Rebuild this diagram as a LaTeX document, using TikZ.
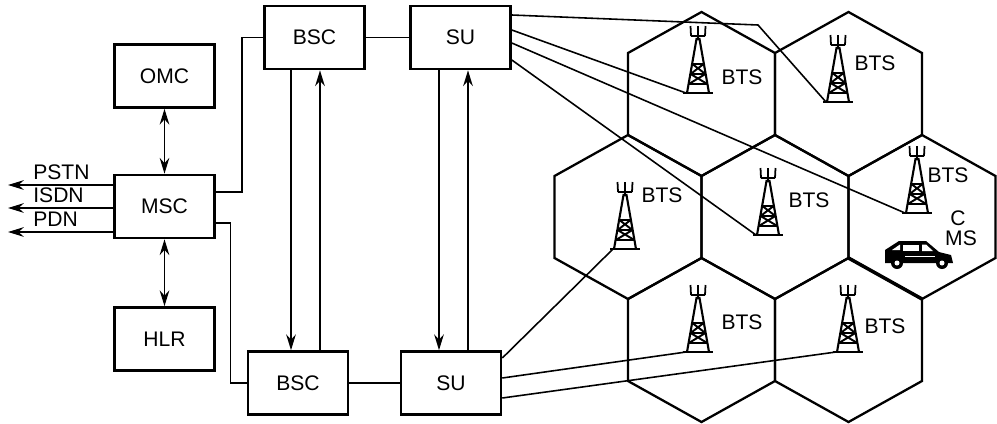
\documentclass[tikz,border=0pt]{standalone}
\usepackage{fontspec}
\setmainfont{Liberation Sans}
\usetikzlibrary{arrows.meta, calc}

\begin{document}
\begin{tikzpicture}[x=0.02cm, y=-0.02cm,
    font=\fontsize{12}{14}\selectfont,
    unit/.style={draw, line width=1.5pt, minimum width=2cm, minimum height=1.26cm, inner sep=0pt},
    link/.style={line width=0.9pt},
    arr/.style={line width=0.9pt, -{Stealth[length=9pt, width=5.5pt, inset=3pt]}},
    dblarr/.style={line width=0.9pt, {Stealth[length=9pt, width=5.5pt, inset=3pt]}-{Stealth[length=9pt, width=5.5pt, inset=3pt]}},
    cell/.style={line width=1.3pt, line join=miter},
    tag/.style={inner sep=0pt, anchor=base west},
    tower/.pic={
        \draw[line width=1pt] (-15,0) -- (15,0);
        \draw[line width=1.2pt] (-11,0) -- (-1.5,-54) -- (1.5,-54) -- (11,0);
        \draw[line width=1pt] (0,-54) -- (0,-57) (-7,-57) -- (7,-57);
        \draw[line width=1pt] (-7,-57) -- (-7.5,-67) (0,-57) -- (0,-67) (7,-57) -- (7.5,-67);
        \draw[line width=1.1pt] (-9.2,-9) -- (9.2,-9) (-7.4,-19) -- (7.4,-19) (-5.6,-29) -- (5.6,-29);
        \draw[line width=1.1pt] (-9.2,-9) -- (7.4,-19) (9.2,-9) -- (-7.4,-19)
            (-7.4,-19) -- (5.6,-29) (7.4,-19) -- (-5.6,-29);
        \coordinate (-foot) at (-12,0);
    }]
\useasboundingbox (0,0) rectangle (997,423);

% switching side
\node[unit] (omc) at (164.5,76) {OMC};
\node[unit] (msc) at (164.5,206.5) {MSC};
\node[unit] (hlr) at (164.5,339) {HLR};
\draw[dblarr] (omc) -- (msc);
\draw[dblarr] (msc) -- (hlr);

\coordinate (pstnEnd) at (8,185);
\coordinate (isdnEnd) at (8,208);
\coordinate (pdnEnd) at (8,232);
\draw[arr] ($(msc.west)+(0,-21.5)$) -- (pstnEnd);
\draw[arr] ($(msc.west)+(0,1.5)$) -- (isdnEnd);
\draw[arr] ($(msc.west)+(0,25.5)$) -- (pdnEnd);
\node[tag] (pstn) at (33,179) {PSTN};
\node[tag] (isdn) at (33,202) {ISDN};
\node[tag] (pdn) at (33,226) {PDN};

% base station controllers
\node[unit] (bscA) at (314.5,37.5) {BSC};
\node[unit] (suA) at (460.5,37.5) {SU};
\node[unit] (bscB) at (298,383) {BSC};
\node[unit] (suB) at (451,383) {SU};

\draw[link] ($(msc.east)+(0,-14.5)$) -| ($(bscA.west)+(-21,0)$) -- (bscA.west);
\draw[link] ($(msc.east)+(0,16.5)$) -| ($(bscB.west)+(-16,0)$) -- (bscB.west);
\draw[link] (bscA) -- (suA);
\draw[link] (bscB) -- (suB);

\draw[arr] ($(bscA.south)+(-23.5,0)$) -- ($(bscB.north)+(-7,0)$);
\draw[arr] ($(bscB.north)+(22,0)$) -- ($(bscA.south)+(5.5,0)$);
\draw[arr] ($(suA.south)+(-21.5,0)$) -- ($(suB.north)+(-12,0)$);
\draw[arr] ($(suB.north)+(17,0)$) -- ($(suA.south)+(7.5,0)$);

% cells
\foreach \cx/\cy in {701.5/94, 848.5/94, 628/217, 775/217, 922/217, 701.5/340, 848.5/340}
    \draw[cell] (\cx,\cy-82) -- (\cx+73.5,\cy-41) -- (\cx+73.5,\cy+41) -- (\cx,\cy+82)
        -- (\cx-73.5,\cy+41) -- (\cx-73.5,\cy-41) -- cycle;
\draw[line width=2pt] (848.5,258) -- (922,299);

% towers
\pic (t1) at (698,93) {tower};
\pic (t2) at (838,102) {tower};
\pic (t3) at (625,249) {tower};
\pic (t4) at (768,235) {tower};
\pic (t5) at (917,213) {tower};
\pic (t6) at (698,352) {tower};
\pic (t7) at (848,352) {tower};
\node (b1) at (742,77) {BTS};
\node (b2) at (875,63) {BTS};
\node (b3) at (662,195) {BTS};
\node (b4) at (809,200) {BTS};
\node (b5) at (948,175) {BTS};
\node (b6) at (742,322) {BTS};
\node (b7) at (885,326) {BTS};

\coordinate (bend) at (758,25);
\draw[link] ($(suA.east)+(0,-22.5)$) -- (bend) -- (t2-foot);
\draw[link] ($(suA.east)+(0,-7.5)$) -- (t1-foot);
\draw[link] ($(suA.east)+(0,5.5)$) -- (t5-foot);
\draw[link] ($(suA.east)+(0,22.5)$) -- (t4-foot);
\draw[link] ($(suB.east)+(0,-25)$) -- (t3-foot);
\draw[link] ($(suB.east)+(0,-5)$) -- (t6-foot);
\draw[link] ($(suB.east)+(0,15)$) -- (t7-foot);

% mobile station
\fill (885,263) -- (885,250) -- (899,241) -- (926,241) -- (939,252) -- (951,255) -- (953,263) -- cycle;
\fill[white] (892,250) -- (900,244.5) -- (900,250) -- cycle;
\fill[white] (903,244.5) -- (919,244.5) -- (919,251) -- (903,251) -- cycle;
\fill[white] (922,244.5) -- (926,244.5) -- (933,251) -- (922,251) -- cycle;
\draw[white, line width=0.5pt] (905,256) -- (935,256);
\fill (897,263) circle (6);
\fill[white] (897,263) circle (2.5);
\fill (942,263) circle (6);
\fill[white] (942,263) circle (2.5);
\node[inner sep=0pt] (c) at (958,218) {C};
\node[inner sep=0pt] (ms) at (961,238) {MS};

\end{tikzpicture}
\end{document}
